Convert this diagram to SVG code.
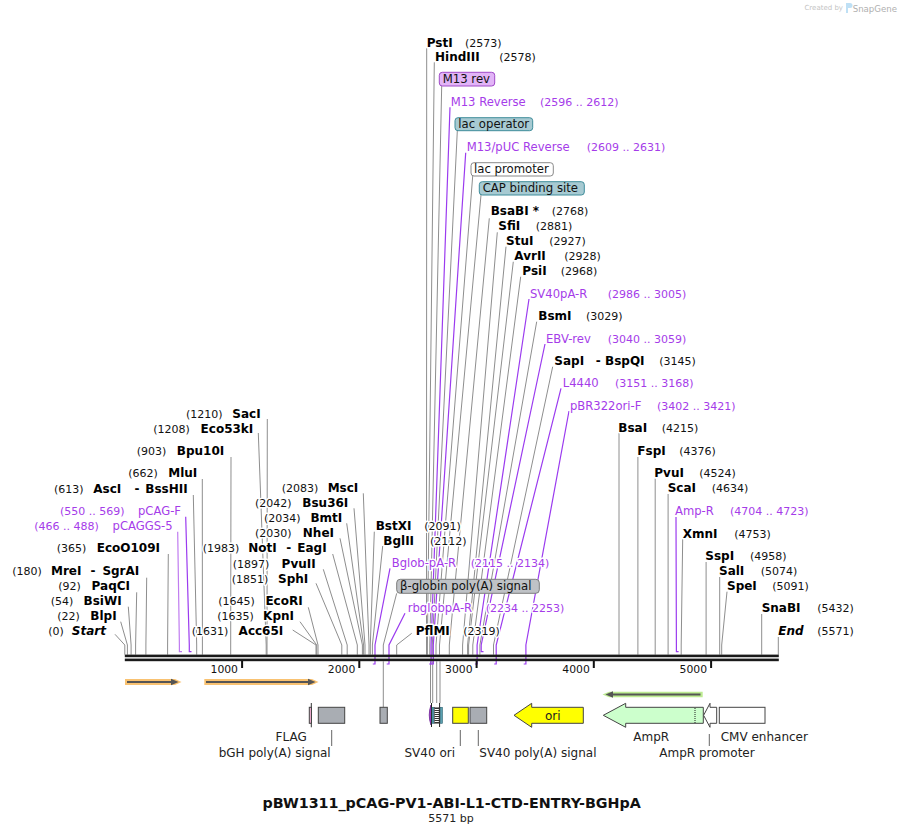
<svg xmlns="http://www.w3.org/2000/svg" width="904" height="834" viewBox="0 0 904 834">
<style>
text{font-family:"DejaVu Sans","Liberation Sans",sans-serif;paint-order:stroke;stroke:#fff;stroke-width:3px;stroke-linejoin:round}
.e{font-size:12px;font-weight:bold;fill:#000}
.i{font-style:italic}
.n{font-size:11px;fill:#111}
.p{font-size:11.6px;fill:#a53ce9}
.pn{font-size:11px;fill:#a53ce9}
.b{font-size:11.7px;fill:#111;stroke:none}
.f{font-size:12px;fill:#222;stroke:none}
.t{font-size:10.8px;fill:#111;stroke:none}
.el{fill:none;stroke:#8e8e8e;stroke-width:1}
.pl{fill:none;stroke:#9b3bef;stroke-width:1.2}
.fl{fill:none;stroke:#666;stroke-width:1}
.box{stroke:#444;stroke-width:1}
</style>
<defs>
<pattern id="hatch" width="3" height="2" patternUnits="userSpaceOnUse"><rect width="3" height="2" fill="#fff"/><rect width="3" height="1" fill="#333"/></pattern>
</defs>
<rect width="904" height="834" fill="#fff"/>
<g id="watermark">
<text x="843" y="10" text-anchor="end" style="font-size:7px;fill:#c4c4c4;stroke:none">Created by</text>
<path d="M846 3 h4 a2.5 2.5 0 0 1 0 5 h-2 v5 h-2 z" fill="#bfe0f5"/>
<text x="897" y="11.5" text-anchor="end" style="font-size:8.6px;fill:#b0b0b0;stroke:none">SnapGene</text>
</g>
<g id="connectors">
<polyline class="el" points="115,634.3 124.8,645 124.8,654.7"/>
<polyline class="el" points="120.7,621.7 127.4,645 127.4,654.7"/>
<polyline class="el" points="128.3,606.7 131.1,645 131.1,654.7"/>
<polyline class="el" points="136.7,592.3 135.6,645 135.6,654.7"/>
<polyline class="el" points="146.7,577.7 145.9,645 145.9,654.7"/>
<polyline class="el" points="168.3,554 167.6,645 167.6,654.7"/>
<polyline class="el" points="193.3,495 196.7,645 196.7,654.7"/>
<polyline class="el" points="202.3,479 202.4,645 202.4,654.7"/>
<polyline class="el" points="231,457 230.7,645 230.7,654.7"/>
<polyline class="el" points="258.3,433 266.2,645 266.2,654.7"/>
<polyline class="el" points="267.3,419 267,645 267,654.7"/>
<polyline class="el" points="292.7,630 316,645 316,654.7"/>
<polyline class="el" points="300,621.7 316.7,645 316.7,654.7"/>
<polyline class="el" points="308.3,607.3 318,645 318,654.7"/>
<polyline class="el" points="316,583.3 341.8,645 341.8,654.7"/>
<polyline class="el" points="323.3,569.3 347.2,645 347.2,654.7"/>
<polyline class="el" points="332.7,554 357.3,645 357.3,654.7"/>
<polyline class="el" points="340,538.3 362.4,645 362.4,654.7"/>
<polyline class="el" points="346.7,523.3 363.6,645 363.6,654.7"/>
<polyline class="el" points="354,508.3 365,645 365,654.7"/>
<polyline class="el" points="363.3,493.3 369,645 369,654.7"/>
<polyline class="el" points="374.3,531.7 370.3,645 370.3,654.7"/>
<polyline class="el" points="382.7,546 372.4,645 372.4,654.7"/>
<polyline class="el" points="396.7,593.3 383.3,645 383.3,654.7"/>
<line class="el" x1="383.3" y1="661.3" x2="383.3" y2="707"/>
<polyline class="el" points="411.7,633.3 396.7,645 396.7,654.7"/>
<polyline class="el" points="426.7,48.3 426.5,645 426.5,654.7"/>
<polyline class="el" points="434.3,62.3 427.4,645 427.4,654.7"/>
<polyline class="el" points="441.7,86 429.8,645 429.8,654.7"/>
<polyline class="el" points="457.3,131 432.3,645 432.3,654.7"/>
<polyline class="el" points="472.7,176 436,645 436,654.7"/>
<polyline class="el" points="481,195 439.5,645 439.5,654.7"/>
<line class="el" x1="430.5" y1="661.3" x2="430.5" y2="703"/>
<line class="el" x1="432.7" y1="661.3" x2="432.7" y2="703"/>
<line class="el" x1="436.7" y1="661.3" x2="436.7" y2="703"/>
<line class="el" x1="440" y1="661.3" x2="440" y2="703"/>
<polyline class="el" points="489.3,218.3 449.3,645 449.3,654.7"/>
<polyline class="el" points="497.3,232.3 462.6,645 462.6,654.7"/>
<polyline class="el" points="506,246.7 467.6,645 467.6,654.7"/>
<polyline class="el" points="513.3,261.7 468.6,645 468.6,654.7"/>
<polyline class="el" points="520.7,276.7 472.8,645 472.8,654.7"/>
<polyline class="el" points="536.7,321.7 479.9,645 479.9,654.7"/>
<polyline class="el" points="552.7,366.7 493.5,645 493.5,654.7"/>
<line class="el" x1="619" y1="433" x2="619" y2="654.7"/>
<line class="el" x1="637.9" y1="457" x2="637.9" y2="654.7"/>
<line class="el" x1="655.2" y1="478.5" x2="655.2" y2="654.7"/>
<line class="el" x1="668.1" y1="494" x2="668.1" y2="654.7"/>
<polyline class="el" points="682.7,539 681.2,645 681.2,654.7"/>
<line class="el" x1="706.1" y1="562" x2="706.1" y2="654.7"/>
<line class="el" x1="719.7" y1="577" x2="719.7" y2="654.7"/>
<polyline class="el" points="727,591.7 721.7,645 721.7,654.7"/>
<line class="el" x1="761.7" y1="614" x2="761.7" y2="654.7"/>
<line class="el" x1="778.3" y1="637" x2="778.3" y2="654.7"/>
<polyline class="pl" style="stroke:#c07cf0" points="177.7,531.7 179.4,645 179.4,651.7 182,651.7"/>
<polyline class="pl" points="185.7,516.7 189.3,645 189.3,651.7 191.5,651.7"/>
<polyline class="pl" points="390,568.3 375,645 375,664 372.8,664"/>
<polyline class="pl" points="405,613.3 389,645 389,664 386.7,664"/>
<polyline class="pl" points="450,107.3 431.1,645 431.1,664 429.2,664"/>
<polyline class="pl" points="465.7,152.7 433.3,645 433.3,664 430.7,664"/>
<polyline class="pl" points="529,299 477.1,645 477.1,664 474.9,664"/>
<polyline class="pl" points="545,344 481.2,645 481.2,651.7 483.5,651.7"/>
<polyline class="pl" points="561,388.3 496.2,645 496.2,664 494.2,664"/>
<polyline class="pl" points="569,411 525.9,645 525.9,664 523.7,664"/>
<polyline class="pl" points="676,517 676.4,645 676.4,651.7 678.6,651.7"/>
<line class="fl" x1="311.3" y1="703" x2="311.3" y2="727.3" style="stroke:#333"/>
<line class="fl" x1="331.7" y1="730" x2="331.7" y2="746"/>
<line class="fl" x1="460.3" y1="730" x2="460.3" y2="746"/>
<line class="fl" x1="478.3" y1="730" x2="478.3" y2="746"/>
<line class="fl" x1="709.3" y1="734" x2="709.3" y2="746"/>
</g>
<g id="backbone">
<rect x="124.8" y="654.6" width="654" height="2.6" fill="#1a1a1a"/>
<rect x="124.8" y="658.6" width="654" height="2.6" fill="#1a1a1a"/>
<rect x="241.1" y="661" width="2" height="7" fill="#111"/>
<rect x="358.3" y="661" width="2" height="7" fill="#111"/>
<rect x="475.6" y="661" width="2" height="7" fill="#111"/>
<rect x="592.8" y="661" width="2" height="7" fill="#111"/>
<rect x="710.1" y="661" width="2" height="7" fill="#111"/>
<text class="t" x="238" y="672.5" text-anchor="end">1000</text>
<text class="t" x="355.3" y="672.5" text-anchor="end">2000</text>
<text class="t" x="472.6" y="672.5" text-anchor="end">3000</text>
<text class="t" x="589.8" y="672.5" text-anchor="end">4000</text>
<text class="t" x="707.1" y="672.5" text-anchor="end">5000</text>
</g>
<g id="orf1"><polygon points="125,679 175,679 181.5,682 175,685 125,685" fill="#f8bb62" opacity="0.9"/><line x1="127" y1="682" x2="172" y2="682" stroke="#555" stroke-width="2"/><polygon points="171,678.8 178.5,682 171,685.2" fill="#555"/></g>
<g id="orf2"><polygon points="204.3,679 312,679 318.5,682 312,685 204.3,685" fill="#f8bb62" opacity="0.9"/><line x1="206" y1="682" x2="309" y2="682" stroke="#555" stroke-width="2"/><polygon points="308,678.8 315.5,682 308,685.2" fill="#555"/></g>
<g id="orf3"><polygon points="702.7,691.7 609,691.7 602.5,694.5 609,697.3 702.7,697.3" fill="#b9ea8c" opacity="0.95"/><line x1="700.5" y1="694.5" x2="612" y2="694.5" stroke="#555" stroke-width="2"/><polygon points="613,691.3 605.5,694.5 613,697.7" fill="#555"/></g>
<g id="FLAG"><rect class="box" x="309.3" y="707.3" width="2.2" height="16" fill="#e7a6c9"/><text class="f" x="306.7" y="741" text-anchor="end">FLAG</text></g>
<g id="bGH"><rect class="box" x="318.3" y="707.3" width="26.4" height="16" fill="#a9adb3"/><text class="f" x="330.7" y="757" text-anchor="end">bGH poly(A) signal</text></g>
<g id="bglobin-feature"><rect class="box" x="380" y="707.3" width="7.3" height="16" fill="#a9adb3"/></g>
<g id="lac-features">
<path d="M431,705 Q427.5,715 431,725 Z" fill="#b548e8" stroke="#6a2090" stroke-width="0.8"/>
<line x1="431.5" y1="703" x2="431.5" y2="727" stroke="#222" stroke-width="1"/>
<rect x="432" y="707.3" width="2" height="16" fill="#5aa0b0" stroke="#2a6070" stroke-width="0.6"/>
<rect x="434.5" y="707.3" width="4.6" height="16" fill="url(#hatch)" stroke="#444" stroke-width="0.6"/>
<line x1="439.6" y1="703" x2="439.6" y2="727" stroke="#222" stroke-width="1"/>
<rect x="440.2" y="707.3" width="2.2" height="16" fill="#5aa0b0" stroke="#2a6070" stroke-width="0.6"/>
</g>
<g id="SV40ori"><rect class="box" x="452.7" y="707.3" width="15.6" height="16" fill="#ffff00"/><text class="f" x="455" y="757" text-anchor="end">SV40 ori</text></g>
<g id="SV40pA"><rect class="box" x="470" y="707.3" width="16.7" height="16" fill="#a9adb3"/><text class="f" x="479.3" y="757">SV40 poly(A) signal</text></g>
<g id="ori"><polygon class="box" points="514,715.3 531.7,703.3 531.7,707.3 583.3,707.3 583.3,723.3 531.7,723.3 531.7,727.3" fill="#ffff00"/><text class="f" x="552.7" y="719.5" text-anchor="middle">ori</text></g>
<g id="AmpR"><polygon class="box" points="603.3,715.3 625.7,703.3 625.7,707.3 703.3,707.3 703.3,723.3 625.7,723.3 625.7,727.3" fill="#ccffcc" stroke="#666"/><line x1="695" y1="708" x2="695" y2="723" stroke="#222" stroke-dasharray="1,1"/><text class="f" x="633.3" y="741">AmpR</text></g>
<g id="AmpR-promoter"><polygon class="box" points="703.6,715.3 710,703.3 710,707.3 716.7,707.3 716.7,723.3 710,723.3 710,727.3" fill="#fff" stroke="#666"/><text class="f" x="659.3" y="757">AmpR promoter</text></g>
<g id="CMV"><rect class="box" x="719.3" y="707.3" width="45.7" height="16" fill="#fff" stroke="#666"/><text class="f" x="720.7" y="741">CMV enhancer</text></g>
<g id="labels-top">
<g id="PstI"><text class="e" x="426.7" y="47">PstI</text><text class="n" x="465" y="47">(2573)</text></g>
<g id="HindIII"><text class="e" x="435" y="61">HindIII</text><text class="n" x="499.3" y="61">(2578)</text></g>
<g id="M13rev"><rect x="439.3" y="72.3" width="55.4" height="13.7" rx="3" fill="#e2b4f7" stroke="#a04ac8"/><text class="b" x="442.7" y="83.3">M13 rev</text></g>
<g id="M13Reverse"><text class="p" x="450.7" y="106">M13 Reverse</text><text class="pn" x="540" y="106">(2596 .. 2612)</text></g>
<g id="lacoperator"><rect x="455" y="117.7" width="77.7" height="13" rx="3" fill="#a7cad2" stroke="#3f8d9b"/><text class="b" x="458.3" y="128.3">lac operator</text></g>
<g id="M13pUC"><text class="p" x="466.7" y="151">M13/pUC Reverse</text><text class="pn" x="586.7" y="151">(2609 .. 2631)</text></g>
<g id="lacpromoter"><rect x="471" y="162.7" width="82.3" height="13.3" rx="3" fill="#fff" stroke="#8a8a8a"/><text class="b" x="474" y="173.3">lac promoter</text></g>
<g id="CAP"><rect x="479.3" y="181.7" width="105" height="13.3" rx="3" fill="#a7cad2" stroke="#3f8d9b"/><text class="b" x="482.7" y="192.3">CAP binding site</text></g>
<g id="BsaBI"><text class="e" x="490.7" y="215">BsaBI *</text><text class="n" x="551.7" y="215">(2768)</text></g>
<g id="SfiI"><text class="e" x="498.3" y="230.3">SfiI</text><text class="n" x="535.7" y="230.3">(2881)</text></g>
<g id="StuI"><text class="e" x="506" y="245">StuI</text><text class="n" x="549.3" y="245">(2927)</text></g>
<g id="AvrII"><text class="e" x="514.3" y="260.3">AvrII</text><text class="n" x="564.3" y="260.3">(2928)</text></g>
<g id="PsiI"><text class="e" x="522.3" y="275.3">PsiI</text><text class="n" x="560.7" y="275.3">(2968)</text></g>
<g id="SV40pA-R"><text class="p" x="530" y="297.6">SV40pA-R</text><text class="pn" x="607.7" y="297.6">(2986 .. 3005)</text></g>
<g id="BsmI"><text class="e" x="538.3" y="320">BsmI</text><text class="n" x="586" y="320">(3029)</text></g>
<g id="EBV-rev"><text class="p" x="546" y="342.6">EBV-rev</text><text class="pn" x="607.7" y="342.6">(3040 .. 3059)</text></g>
<g id="SapI"><text class="e" x="554.3" y="365">SapI</text><text class="e" x="595.7" y="365">-</text><text class="e" x="605" y="365">BspQI</text><text class="n" x="659.3" y="365">(3145)</text></g>
<g id="L4440"><text class="p" x="562.7" y="387">L4440</text><text class="pn" x="615" y="387">(3151 .. 3168)</text></g>
<g id="pBR322ori-F"><text class="p" x="570" y="410">pBR322ori-F</text><text class="pn" x="657" y="410">(3402 .. 3421)</text></g>
</g>
<g id="labels-right">
<g id="BsaI"><text class="e" x="618.3" y="432">BsaI</text><text class="n" x="661.7" y="432">(4215)</text></g>
<g id="FspI"><text class="e" x="637.3" y="455.3">FspI</text><text class="n" x="679.3" y="455.3">(4376)</text></g>
<g id="PvuI"><text class="e" x="654.3" y="476.6">PvuI</text><text class="n" x="699.3" y="476.6">(4524)</text></g>
<g id="ScaI"><text class="e" x="667.7" y="492">ScaI</text><text class="n" x="711.7" y="492">(4634)</text></g>
<g id="Amp-R"><text class="p" x="675" y="515">Amp-R</text><text class="pn" x="730" y="515">(4704 .. 4723)</text></g>
<g id="XmnI"><text class="e" x="682.7" y="537.6">XmnI</text><text class="n" x="734.3" y="537.6">(4753)</text></g>
<g id="SspI"><text class="e" x="705.3" y="560.3">SspI</text><text class="n" x="750" y="560.3">(4958)</text></g>
<g id="SalI"><text class="e" x="719" y="575">SalI</text><text class="n" x="760.7" y="575">(5074)</text></g>
<g id="SpeI"><text class="e" x="727" y="590.3">SpeI</text><text class="n" x="772.3" y="590.3">(5091)</text></g>
<g id="SnaBI"><text class="e" x="761.7" y="612">SnaBI</text><text class="n" x="817.3" y="612">(5432)</text></g>
<g id="End"><text class="e i" x="778.3" y="635">End</text><text class="n" x="817.3" y="635">(5571)</text></g>
</g>
<g id="labels-left">
<g id="SacI"><text class="n" x="186" y="417.6">(1210)</text><text class="e" x="260.7" y="417.6" text-anchor="end">SacI</text></g>
<g id="Eco53kI"><text class="n" x="153.3" y="432.6">(1208)</text><text class="e" x="253.3" y="432.6" text-anchor="end">Eco53kI</text></g>
<g id="Bpu10I"><text class="n" x="136.7" y="455.3">(903)</text><text class="e" x="224.3" y="455.3" text-anchor="end">Bpu10I</text></g>
<g id="MluI"><text class="n" x="128.3" y="477">(662)</text><text class="e" x="197.3" y="477" text-anchor="end">MluI</text></g>
<g id="AscI"><text class="n" x="54" y="492.6">(613)</text><text class="e" x="93.3" y="492.6">AscI</text><text class="e" x="134.5" y="492.6">-</text><text class="e" x="187.7" y="492.6" text-anchor="end">BssHII</text></g>
<g id="pCAG-F"><text class="pn" x="60" y="515.3">(550 .. 569)</text><text class="p" x="181" y="515.3" text-anchor="end">pCAG-F</text></g>
<g id="pCAGGS-5"><text class="pn" x="34.3" y="530.3">(466 .. 488)</text><text class="p" x="172.7" y="530.3" text-anchor="end">pCAGGS-5</text></g>
<g id="EcoO109I"><text class="n" x="56.7" y="552">(365)</text><text class="e" x="160" y="552" text-anchor="end">EcoO109I</text></g>
<g id="MreI"><text class="n" x="12.3" y="575.3">(180)</text><text class="e" x="51" y="575.3">MreI</text><text class="e" x="90.5" y="575.3">-</text><text class="e" x="139.3" y="575.3" text-anchor="end">SgrAI</text></g>
<g id="PaqCI"><text class="n" x="58.3" y="590">(92)</text><text class="e" x="130" y="590" text-anchor="end">PaqCI</text></g>
<g id="BsiWI"><text class="n" x="50.7" y="605.3">(54)</text><text class="e" x="121.7" y="605.3" text-anchor="end">BsiWI</text></g>
<g id="BlpI"><text class="n" x="57.3" y="620.3">(22)</text><text class="e" x="116.7" y="620.3" text-anchor="end">BlpI</text></g>
<g id="Start"><text class="n" x="48.3" y="635">(0)</text><text class="e i" x="106" y="635" text-anchor="end">Start</text></g>
</g>
<g id="labels-middle">
<g id="MscI"><text class="n" x="281.7" y="491.6">(2083)</text><text class="e" x="358.3" y="491.6" text-anchor="end">MscI</text></g>
<g id="Bsu36I"><text class="n" x="255" y="507">(2042)</text><text class="e" x="348.3" y="507" text-anchor="end">Bsu36I</text></g>
<g id="BmtI"><text class="n" x="264" y="522">(2034)</text><text class="e" x="342.3" y="522" text-anchor="end">BmtI</text></g>
<g id="NheI"><text class="n" x="255" y="537">(2030)</text><text class="e" x="334" y="537" text-anchor="end">NheI</text></g>
<g id="NotI"><text class="n" x="202.7" y="552">(1983)</text><text class="e" x="248.3" y="552">NotI</text><text class="e" x="286.2" y="552">-</text><text class="e" x="326.7" y="552" text-anchor="end">EagI</text></g>
<g id="PvuII"><text class="n" x="232.7" y="567.6">(1897)</text><text class="e" x="315.7" y="567.6" text-anchor="end">PvuII</text></g>
<g id="SphI"><text class="n" x="231.7" y="582.6">(1851)</text><text class="e" x="308.3" y="582.6" text-anchor="end">SphI</text></g>
<g id="EcoRI"><text class="n" x="218.3" y="605.3">(1645)</text><text class="e" x="302.7" y="605.3" text-anchor="end">EcoRI</text></g>
<g id="KpnI"><text class="n" x="217.3" y="620.3">(1635)</text><text class="e" x="294" y="620.3" text-anchor="end">KpnI</text></g>
<g id="Acc65I"><text class="n" x="191.7" y="635">(1631)</text><text class="e" x="283.3" y="635" text-anchor="end">Acc65I</text></g>
<g id="BstXI"><text class="e" x="375.7" y="530">BstXI</text><text class="n" x="424.3" y="530">(2091)</text></g>
<g id="BglII"><text class="e" x="383.3" y="545">BglII</text><text class="n" x="430" y="545">(2112)</text></g>
<g id="Bglob-pA-R"><text class="p" x="391.7" y="567">Bglob-pA-R</text><text class="pn" x="470.7" y="567">(2115 .. 2134)</text></g>
<g id="bglobin-label"><rect x="396.7" y="579.3" width="142.6" height="14" rx="3.5" fill="#bfc2c6" stroke="#7d7d7d"/><text class="b" x="400" y="590.3">β-globin poly(A) signal</text></g>
<g id="rbglobpA-R"><text class="p" x="407.7" y="612">rbglobpA-R</text><text class="pn" x="485.7" y="612">(2234 .. 2253)</text></g>
<g id="PflMI"><text class="e" x="415.7" y="635.3">PflMI</text><text class="n" x="463.3" y="635.3">(2319)</text></g>
</g>
<g id="title">
<text x="451.7" y="808" text-anchor="middle" style="font-size:14.3px;font-weight:bold;fill:#111;stroke:none">pBW1311_pCAG-PV1-ABI-L1-CTD-ENTRY-BGHpA</text>
<text x="451" y="822" text-anchor="middle" style="font-size:11px;fill:#222;stroke:none">5571 bp</text>
</g>
</svg>
